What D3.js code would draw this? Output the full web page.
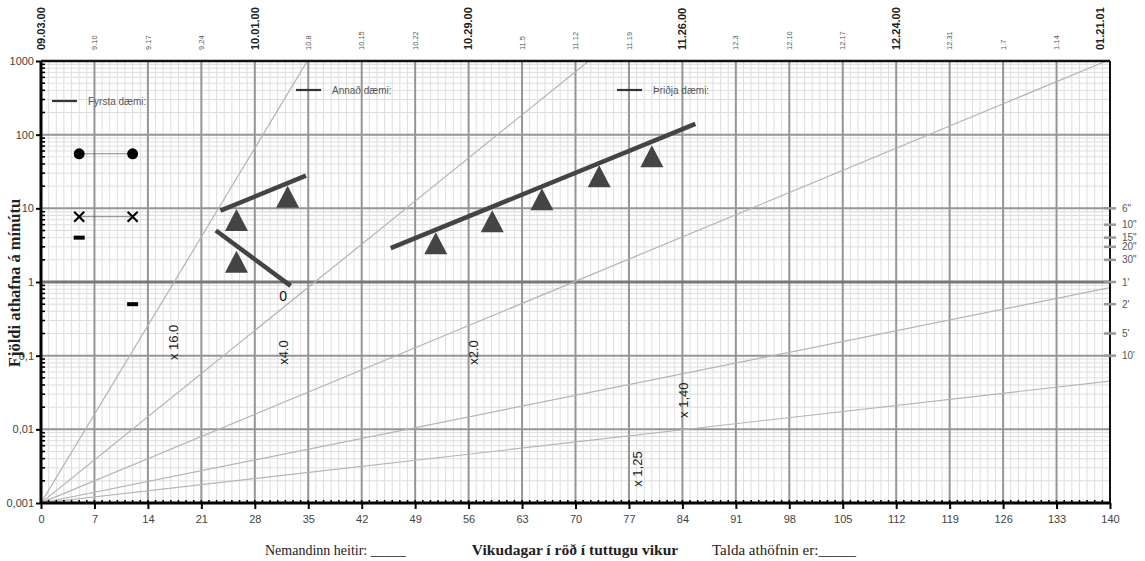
<!DOCTYPE html>
<html>
<head>
<meta charset="utf-8">
<script src="https://cdn.jsdelivr.net/npm/d3@7"></script>
<style>
  body { margin: 0; background: #fff; }
  svg { display: block; font-family: "Liberation Sans", Arial, sans-serif; }
  .serif { font-family: "Liberation Serif", "Times New Roman", serif; }
</style>
</head>
<body>
<div class="chart"></div>
<script>

////////// DATA //////////

var dayMax = 140;

var dateLabels = ["09.03.00","9.10","9.17","9.24","10.01.00","10.8","10.15","10.22","10.29.00",
  "11.5","11.12","11.19","11.26.00","12.3","12.10","12.17","12.24.00","12.31","1.7","1.14","01.21.01"];

var yTickValues = [1000, 100, 10, 1, 0.1, 0.01, 0.001];
var yTickLabels = ["1000", "100", "10", "1", "0,1", "0,01", "0,001"];

// recording time marks on the right edge
var timeLabels = ['6"', '10"', '15"', '20"', '30"', "1'", "2'", "5'", "10'"];
var timeValues = [10, 6, 4, 3, 2, 1, 0.5, 0.2, 0.1];

// celeration fan from day 0 / 0.001 (factor per week)
var celFactors = [16, 3.85, 2, 1.4, 1.21];
var celLabels = ["x 16.0", "x4.0", "x2.0", "x 1,40", "x 1,25"];
var celLabelDays = [17.3, 31.7, 56.6, 84.1, 78.1];
var celLabelValues = [0.087, 0.075, 0.075, 0.0143, 0.00166];

// legend examples
var legendNames = ["Fyrsta dæmi:", "Annað dæmi:", "Þriðja dæmi:"];
var circleDays = [5, 12], circleValues = [55, 55];
var crossDays = [5, 12], crossValues = [7.7, 7.7];
var dashDays = [5, 12], dashValues = [4.0, 0.5];

// triangles (data points)
var triDays = [25.6, 25.6, 32.3, 51.7, 59.1, 65.6, 73.1, 80];
var triValues = [6.95, 1.89, 14.4, 3.35, 6.67, 13.3, 27.2, 51];

// trend lines [day0, value0, day1, value1]
var trendA = [23.5, 9.3, 34.7, 27.8];
var trendB = [22.9, 5.0, 32.7, 0.885];
var trendC = [45.8, 2.88, 85.7, 140];


////////// SETUP //////////

var W = 1145, H = 561;
var margin = { top: 61, left: 41 };
var width = 1069, height = 442;

var x = d3.scaleLinear().domain([0, dayMax]).range([0, width]);
var y = d3.scaleLog().domain([0.001, 1000]).range([height, 0]);

var svg = d3.select(".chart").append("svg")
    .attr("width", W)
    .attr("height", H);

var g = svg.append("g")
    .attr("transform", "translate(" + margin.left + "," + margin.top + ")");

svg.append("defs").append("clipPath")
    .attr("id", "plot-clip")
  .append("rect")
    .attr("width", width)
    .attr("height", height);


////////// GRID //////////

var minorY = [];
[0.001, 0.01, 0.1, 1, 10, 100].forEach(function(d) {
  for (var k = 2; k <= 9; k++) minorY.push(d * k);
});

var grid = g.append("g").attr("class", "grid");

grid.selectAll(".vminor")
    .data(d3.range(1, dayMax).filter(function(d) { return d % 7 != 0; }))
    .enter().append("line")
    .attr("x1", x).attr("x2", x)
    .attr("y1", 0).attr("y2", height)
    .attr("stroke", "#dedede").attr("stroke-width", 1);

grid.selectAll(".hminor")
    .data(minorY)
    .enter().append("line")
    .attr("x1", 0).attr("x2", width)
    .attr("y1", y).attr("y2", y)
    .attr("stroke", "#dedede").attr("stroke-width", 1);

grid.selectAll(".vmajor")
    .data(d3.range(7, dayMax, 7))
    .enter().append("line")
    .attr("x1", x).attr("x2", x)
    .attr("y1", 0).attr("y2", height)
    .attr("stroke", "#959595").attr("stroke-width", 2);

grid.selectAll(".hmajor")
    .data([100, 10, 1, 0.1, 0.01])
    .enter().append("line")
    .attr("x1", 0).attr("x2", width)
    .attr("y1", y).attr("y2", y)
    .attr("stroke", function(d) { return d == 1 ? "#777" : "#959595"; })
    .attr("stroke-width", function(d) { return d == 1 ? 3 : 2; });


////////// LEGEND //////////

var legendPos = [[11, 40], [255, 29], [576, 29]];

legendNames.forEach(function(name, i) {
  var p = legendPos[i];
  g.append("line")
      .attr("x1", p[0]).attr("x2", p[0] + 25)
      .attr("y1", p[1]).attr("y2", p[1])
      .attr("stroke", "#333").attr("stroke-width", 2.2);
  g.append("text")
      .attr("x", p[0] + 36).attr("y", p[1])
      .attr("dy", "0.35em")
      .attr("font-size", 10)
      .attr("fill", "#555")
      .text(name);
});


////////// CELERATION FAN //////////

var fan = g.append("g").attr("clip-path", "url(#plot-clip)");

celFactors.forEach(function(f, i) {
  // day where line reaches 1000
  var dTop = 7 * Math.log(1e6) / Math.log(f);
  var dEnd = Math.min(dTop, dayMax);
  var vEnd = 0.001 * Math.pow(f, dEnd / 7);
  fan.append("line")
      .attr("x1", x(0)).attr("y1", y(0.001))
      .attr("x2", x(dEnd)).attr("y2", y(vEnd))
      .attr("stroke", "#b4b4b4").attr("stroke-width", 1.2);

  var lx = x(celLabelDays[i]), ly = y(celLabelValues[i]);
  g.append("text")
      .attr("transform", "translate(" + lx + "," + ly + ") rotate(-90)")
      .attr("dy", "0.35em")
      .attr("font-size", 13)
      .attr("fill", "#222")
      .text(celLabels[i]);
});


////////// AXES //////////

// bottom
var xAxis = d3.axisBottom(x)
    .tickValues(d3.range(0, dayMax + 1, 7))
    .tickSize(6)
    .tickPadding(6);

var gx = g.append("g")
    .attr("transform", "translate(0," + height + ")")
    .call(xAxis);
gx.select(".domain").remove();
gx.selectAll(".tick line").attr("stroke", "#000").attr("stroke-width", 2);
gx.selectAll(".tick text").attr("font-size", 11).attr("fill", "#444")
    .attr("font-family", "Liberation Sans, Arial, sans-serif");

g.append("g").selectAll("line")
    .data(d3.range(1, dayMax))
    .enter().append("line")
    .attr("x1", x).attr("x2", x)
    .attr("y1", height - 3).attr("y2", height)
    .attr("stroke", "#000").attr("stroke-width", 1.6);

// left
var gy = g.append("g")
    .call(d3.axisLeft(y).tickValues(yTickValues).tickSize(5).tickPadding(2)
      .tickFormat(function(d, i) { return yTickLabels[i]; }));
gy.select(".domain").remove();
gy.selectAll(".tick line").attr("stroke", "#000").attr("stroke-width", 2);
gy.selectAll(".tick text").attr("font-size", 11).attr("fill", "#444")
    .attr("font-family", "Liberation Sans, Arial, sans-serif");

g.append("g").selectAll("line")
    .data(minorY)
    .enter().append("line")
    .attr("x1", 0).attr("x2", 4)
    .attr("y1", y).attr("y2", y)
    .attr("stroke", "#000").attr("stroke-width", 1.6);

// frame
g.append("line").attr("x1", 0).attr("x2", width).attr("y1", 0).attr("y2", 0)
    .attr("stroke", "#111").attr("stroke-width", 2.5);
g.append("line").attr("x1", 0).attr("x2", width).attr("y1", height).attr("y2", height)
    .attr("stroke", "#000").attr("stroke-width", 3);
g.append("line").attr("x1", 0).attr("x2", 0).attr("y1", 0).attr("y2", height)
    .attr("stroke", "#000").attr("stroke-width", 3);
g.append("line").attr("x1", width).attr("x2", width).attr("y1", 0).attr("y2", height)
    .attr("stroke", "#111").attr("stroke-width", 2);

// top date labels
dateLabels.forEach(function(lbl, i) {
  var big = lbl.split(".").length == 3;
  var px = x(i * 7);
  if (i == dateLabels.length - 1) px -= 10;
  g.append("text")
      .attr("transform", "translate(" + px + "," + (-11) + ") rotate(-90)")
      .attr("dy", "0.35em")
      .attr("font-size", big ? 11 : 7.5)
      .attr("font-weight", big ? "bold" : "normal")
      .attr("fill", big ? "#222" : "#555")
      .text(lbl);
});

// right time marks
var right = g.append("g").attr("transform", "translate(" + width + ",0)");
right.selectAll("line")
    .data(timeValues)
    .enter().append("line")
    .attr("x1", -6).attr("x2", 6)
    .attr("y1", y).attr("y2", y)
    .attr("stroke", "#999").attr("stroke-width", 2.5);
right.selectAll("text")
    .data(timeValues)
    .enter().append("text")
    .attr("x", 12)
    .attr("y", y)
    .attr("dy", "0.35em")
    .attr("font-size", 10)
    .attr("fill", "#555")
    .text(function(d, i) { return timeLabels[i]; });


////////// LEGEND SYMBOLS //////////

var sym = g.append("g");

sym.append("line")
    .attr("x1", x(circleDays[0])).attr("x2", x(circleDays[1]))
    .attr("y1", y(circleValues[0])).attr("y2", y(circleValues[1]))
    .attr("stroke", "#666").attr("stroke-width", 0.8);
sym.selectAll(".dot")
    .data(circleDays)
    .enter().append("circle")
    .attr("cx", function(d) { return x(d); })
    .attr("cy", function(d, i) { return y(circleValues[i]); })
    .attr("r", 5.5)
    .attr("fill", "#000");

sym.append("line")
    .attr("x1", x(crossDays[0])).attr("x2", x(crossDays[1]))
    .attr("y1", y(crossValues[0])).attr("y2", y(crossValues[1]))
    .attr("stroke", "#666").attr("stroke-width", 0.8);
crossDays.forEach(function(d, i) {
  var cx = x(d), cy = y(crossValues[i]), s = 5;
  sym.append("path")
      .attr("d", "M" + (cx - s) + "," + (cy - s) + "L" + (cx + s) + "," + (cy + s) +
                 "M" + (cx - s) + "," + (cy + s) + "L" + (cx + s) + "," + (cy - s))
      .attr("stroke", "#000").attr("stroke-width", 2.2);
});

sym.selectAll(".dash")
    .data(dashDays)
    .enter().append("rect")
    .attr("x", function(d) { return x(d) - 5.5; })
    .attr("y", function(d, i) { return y(dashValues[i]) - 2; })
    .attr("width", 11).attr("height", 4)
    .attr("fill", "#000");


////////// TREND LINES + TRIANGLES //////////

[trendA, trendB, trendC].forEach(function(t) {
  g.append("line")
      .attr("x1", x(t[0])).attr("y1", y(t[1]))
      .attr("x2", x(t[2])).attr("y2", y(t[3]))
      .attr("stroke", "#444").attr("stroke-width", 4.5);
});

g.append("text")
    .attr("x", x(31.7)).attr("y", y(0.78))
    .attr("dy", "0.8em")
    .attr("text-anchor", "middle")
    .attr("font-size", 14)
    .attr("fill", "#111")
    .text("0");

g.selectAll(".tri")
    .data(triDays)
    .enter().append("path")
    .attr("d", function(d, i) {
      var cx = x(d), cy = y(triValues[i]);
      return "M" + cx + "," + (cy - 11) + "L" + (cx + 11.5) + "," + (cy + 11) +
             "L" + (cx - 11.5) + "," + (cy + 11) + "Z";
    })
    .attr("fill", "#444");


////////// TITLES //////////

svg.append("text")
    .attr("class", "serif")
    .attr("transform", "translate(14,283) rotate(-90)")
    .attr("text-anchor", "middle")
    .attr("dy", "0.35em")
    .attr("font-size", 16.5)
    .attr("font-weight", "bold")
    .attr("fill", "#222")
    .text("Fjöldi athafna á mínútu");

svg.append("text")
    .attr("class", "serif")
    .attr("x", 265).attr("y", 555)
    .attr("font-size", 14)
    .attr("fill", "#222")
    .text("Nemandinn heitir: _____");

svg.append("text")
    .attr("class", "serif")
    .attr("x", 575).attr("y", 555)
    .attr("text-anchor", "middle")
    .attr("font-size", 15.5)
    .attr("font-weight", "bold")
    .attr("fill", "#222")
    .text("Vikudagar í röð í tuttugu vikur");

svg.append("text")
    .attr("class", "serif")
    .attr("x", 712).attr("y", 555)
    .attr("font-size", 15)
    .attr("fill", "#222")
    .text("Talda athöfnin er:_____");

</script>
</body>
</html>
